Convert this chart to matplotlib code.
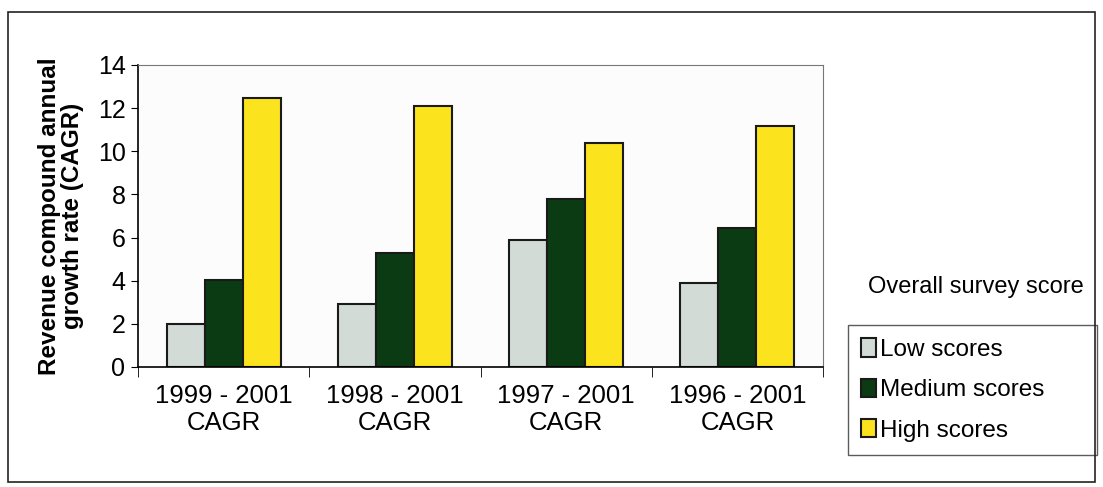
import numpy as np
import matplotlib.pyplot as plt

plt.rcParams["font.family"] = ["Liberation Sans", "DejaVu Sans"]

# data
periods = ["1999 - 2001\nCAGR", "1998 - 2001\nCAGR", "1997 - 2001\nCAGR", "1996 - 2001\nCAGR"]
low_scores = [2.0, 2.9, 5.9, 3.9]
medium_scores = [4.05, 5.3, 7.8, 6.45]
high_scores = [12.45, 12.1, 10.4, 11.15]
yticks = [0, 2, 4, 6, 8, 10, 12, 14]

c_low = "#d2dbd5"
c_med = "#0b3b13"
c_high = "#fbe31e"

fig = plt.figure(figsize=(11.03, 4.87), dpi=100)
# outer frame around the whole chart
fig.add_artist(plt.Rectangle((0.007, 0.01), 0.986, 0.965, transform=fig.transFigure,
                             fill=False, lw=1.2, ec="#222222"))

ax = fig.add_axes([138 / 1103, 1 - 367 / 487, (823 - 138) / 1103, (367 - 65) / 487])
ax.set_facecolor("#fcfcfc")

x = np.arange(len(periods))
w = 0.222
ax.bar(x - w, low_scores, w, color=c_low, edgecolor="#1a1a1a", lw=1.5, label="Low scores")
ax.bar(x, medium_scores, w, color=c_med, edgecolor="#1a1a1a", lw=1.5, label="Medium scores")
ax.bar(x + w, high_scores, w, color=c_high, edgecolor="#1a1a1a", lw=1.5, label="High scores")

ax.set_xlim(-0.5, len(periods) - 0.5)
ax.set_ylim(0, 14)
ax.set_yticks(yticks)
ax.tick_params(axis="y", labelsize=18, length=5, direction="out", pad=4)
ax.set_xticks(x)
ax.set_xticklabels(periods, fontsize=18.5, linespacing=1.15)
ax.tick_params(axis="x", length=0, pad=12)
ax.set_xticks(np.arange(-0.5, len(periods)), minor=True)
ax.tick_params(axis="x", which="minor", length=7, direction="out")

for s in ["top", "right"]:
    ax.spines[s].set_color("#777777")
    ax.spines[s].set_linestyle((0, (2, 1)))
    ax.spines[s].set_linewidth(0.8)
ax.spines["left"].set_linewidth(1.2)
ax.spines["bottom"].set_linewidth(1.2)

ax.set_ylabel("Revenue compound annual\ngrowth rate (CAGR)", fontsize=17.5,
              fontweight="bold", labelpad=10, linespacing=1.0)

fig.text(976 / 1103, 1 - 287 / 487, "Overall survey score", fontsize=17,
         ha="center", va="center")
leg = ax.legend(loc="upper left",
                bbox_to_anchor=(848 / 1103, 1 - 325 / 487, (1097 - 848) / 1103, 0),
                mode="expand", bbox_transform=fig.transFigure, fontsize=17.5,
                frameon=True, fancybox=False, edgecolor="#333333", handlelength=0.6,
                handleheight=0.8, handletextpad=0.15, labelspacing=0.72,
                borderpad=0.55, borderaxespad=0)
leg.get_frame().set_linewidth(1.0)

fig.savefig("out.png", dpi=100)
